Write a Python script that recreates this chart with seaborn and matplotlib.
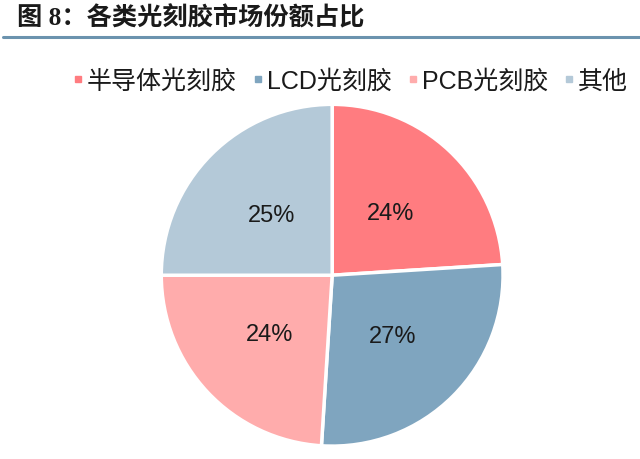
import matplotlib
matplotlib.use("Agg")
import matplotlib.pyplot as plt
import seaborn as sns
from matplotlib.lines import Line2D

sns.set_theme(style="white")
plt.rcParams['font.family'] = ['Liberation Sans', 'Noto Sans CJK SC', 'DejaVu Sans']

# data
categories = ['半导体光刻胶', 'LCD光刻胶', 'PCB光刻胶', '其他']
shares = [24, 27, 24, 25]
colors = ['#FF7C80', '#7FA5BF', '#FFACAC', '#B4C9D8']

fig = plt.figure(figsize=(6.4, 4.6), dpi=100)
fig.patch.set_facecolor('white')

# title and rule below it
fig.text(0.027, 0.960, '图 8：各类光刻胶市场份额占比', fontsize=18.2, fontweight='bold',
         family=['Liberation Serif', 'Noto Sans CJK SC', 'DejaVu Sans'], color='#1a1a1a',
         va='center', ha='left')
fig.add_artist(Line2D([0.005, 1.0], [0.918, 0.918], color='#6B93AE', lw=2.2))

ax = fig.add_axes([0.252, 0.028, 0.534, 0.743])
wedges, texts, autotexts = ax.pie(
    shares, colors=colors, startangle=90, counterclock=False,
    autopct='%.0f%%', pctdistance=0.5,
    wedgeprops=dict(edgecolor='white', linewidth=2.5),
    textprops=dict(fontsize=17, color='#1a1a1a'))
ax.set_xlim(-1.0, 1.0)
ax.set_ylim(-1.0, 1.0)
ax.set_aspect('equal')

handles = [Line2D([0], [0], marker='s', linestyle='', markersize=5,
                  markerfacecolor=c, markeredgecolor=c) for c in colors]
fig.legend(handles, categories, loc='center', bbox_to_anchor=(0.547, 0.822), ncol=4,
           frameon=False, fontsize=18, handletextpad=0.15, columnspacing=0.6,
           handlelength=0.45, labelcolor='#1a1a1a')

fig.savefig('out.png', dpi=100, facecolor='white')
